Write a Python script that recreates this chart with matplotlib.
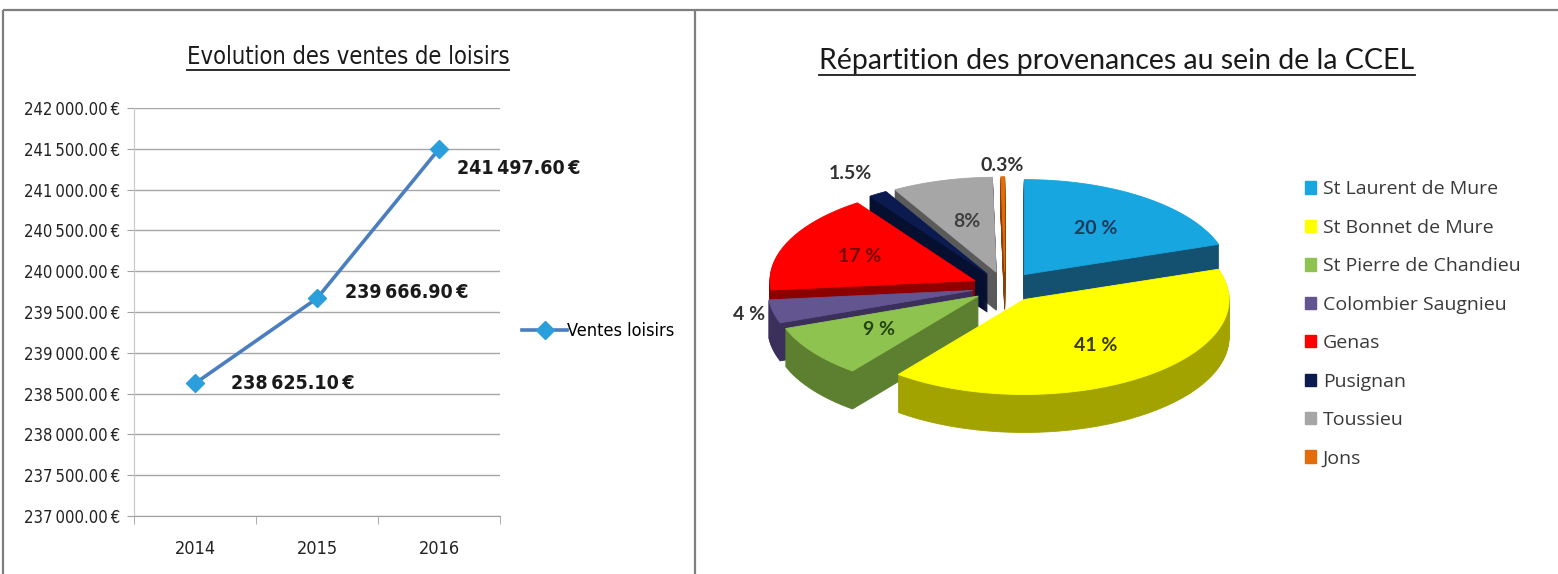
import numpy as np
import matplotlib
matplotlib.use("Agg")
import matplotlib.pyplot as plt
from matplotlib.patches import Polygon, Patch
from matplotlib.ticker import FuncFormatter, FixedLocator

# ---- data ----
years = ["2014", "2015", "2016"]
ventes = [238625.10, 239666.90, 241497.60]
series_name = "Ventes loisirs"

communes = ["St Laurent de Mure", "St Bonnet de Mure", "St Pierre de Chandieu",
            "Colombier Saugnieu", "Genas", "Pusignan", "Toussieu", "Jons"]
parts = [20, 41, 9, 4, 17, 1.5, 8, 0.3]
part_labels = ["20 %", "41 %", "9 %", "4 %", "17 %", "1.5%", "8%", "0.3%"]

# ---- styles ----
top_colors = ["#17a6e0", "#ffff00", "#8fc350", "#63558f", "#ff0000", "#0b1a4f", "#a6a6a6", "#e46c0a"]
side_colors = ["#14506f", "#a3a300", "#5d8030", "#3b2f5c", "#8c0000", "#050f30", "#5a5a5a", "#8a3f05"]
label_colors = ["#1e3a5c", "#3b3b00", "#254510", "#333333", "#7a0000", "#333333", "#404040", "#333333"]
label_radius = [0.6, 0.6, 0.6, 1.12, 0.62, 1.25, 0.55, 1.12]

W, H = 1558, 574
NARROW = dict(family="DejaVu Sans", stretch="condensed")
ROUND = ["Lato", "DejaVu Sans"]


def euro(v):
    return f"{v:,.2f}".replace(",", "\u2009") + "\u2009€"


fig = plt.figure(figsize=(W / 100, H / 100), dpi=100)
fig.patch.set_facecolor("white")

# background axes in pixel units (y down) for frames and the pie
bg = fig.add_axes([0, 0, 1, 1])
bg.set_xlim(0, W)
bg.set_ylim(H, 0)
bg.axis("off")
for xs, ys in [([3, 3], [10, H]), ([3, W], [10, 10]), ([695, 695], [10, H])]:
    bg.plot(xs, ys, color="#7f7f7f", lw=1.6, solid_capstyle="butt")

# ---- left: line chart ----
ax = fig.add_axes([134 / W, (H - 516) / H, 366 / W, 408 / H])
x = np.arange(len(years))
ax.plot(x, ventes, color="#4a7ebf", lw=2.6, marker="D", ms=9,
        mfc="#2b9fdb", mec="#2b9fdb", label=series_name, zorder=3)
ax.set_xlim(-0.5, len(years) - 0.5)
ax.set_ylim(237000, 242000)
ax.yaxis.set_major_locator(FixedLocator(np.arange(237000, 242001, 500)))
ax.yaxis.set_major_formatter(FuncFormatter(lambda v, p: euro(v)))
ax.set_xticks(x)
ax.set_xticklabels(years)
ax.xaxis.set_minor_locator(FixedLocator(np.arange(-0.5, len(years), 1.0)))
ax.tick_params(axis="x", which="major", length=0, pad=17, labelsize=13, labelcolor="#222222")
ax.tick_params(axis="x", which="minor", length=6, color="#a0a0a0", direction="out")
ax.tick_params(axis="y", length=5, color="#a0a0a0", pad=5, labelsize=12, labelcolor="#222222")
for lab in ax.get_xticklabels() + ax.get_yticklabels():
    lab.set_family(NARROW["family"])
    lab.set_stretch(NARROW["stretch"])
ax.grid(axis="y", color="#a6a6a6", lw=1)
ax.set_axisbelow(True)
for s in ["top", "right"]:
    ax.spines[s].set_visible(False)
ax.spines["left"].set_color("#c8c8c8")
ax.spines["bottom"].set_color("#a0a0a0")

offsets = [(26, 0), (20, 4), (13, -14)]
for xi, v, (dx, dy) in zip(x, ventes, offsets):
    ax.annotate(euro(v), (xi, v), xytext=(dx, dy),
                textcoords="offset points", ha="left", va="center",
                fontsize=14, fontweight="bold", color="#1a1a1a", **NARROW)

leg = ax.legend(loc="center left", bbox_to_anchor=(506 / W, 1 - 331 / H),
                bbox_transform=fig.transFigure, frameon=False, handlelength=2.5,
                handletextpad=0.0, numpoints=1,
                prop={"family": NARROW["family"], "stretch": NARROW["stretch"], "size": 13})

renderer = fig.canvas.get_renderer()


def underlined_title(xc, yc, text, size, **font):
    t = fig.text(xc / W, 1 - yc / H, text, ha="center", va="center",
                 fontsize=size, color="#1a1a1a", **font)
    bb = t.get_window_extent(renderer=renderer)
    yline = bb.y0 - 1
    fig.add_artist(plt.Line2D([bb.x0 / W, bb.x1 / W], [yline / H, yline / H],
                              color="#1a1a1a", lw=1.3, transform=fig.transFigure))


underlined_title(348, 57, "Evolution des ventes de loisirs", 17, **NARROW)
underlined_title(1117, 61, "Répartition des provenances au sein de la CCEL", 20.5, family=ROUND)

# ---- right: pseudo 3D exploded pie ----
CX, CY = 1005, 287
RX, RY = 205, 95
DEPTH = 38
EXPLODE = 33

vals = np.array(parts, dtype=float)
frac = vals / vals.sum()
cum = np.concatenate([[0], np.cumsum(frac)])
starts = 90 - 360 * cum[:-1]
ends = 90 - 360 * cum[1:]
mids = (starts + ends) / 2


def point(cx, cy, ang, r=1.0):
    a = np.radians(ang)
    return cx + r * RX * np.cos(a), cy - r * RY * np.sin(a)


order = np.argsort(-np.sin(np.radians(mids)))
for i in order:
    m = np.radians(mids[i])
    cx = CX + EXPLODE * np.cos(m)
    cy = CY - EXPLODE * np.sin(m) * RY / RX
    t = np.linspace(starts[i], ends[i], 80)
    ax_, ay_ = point(cx, cy, t)
    pts = np.column_stack([np.r_[cx, ax_], np.r_[cy, ay_]])
    for d in range(DEPTH, 0, -1):
        bg.add_patch(Polygon(pts + [0, d], closed=True, fc=side_colors[i], ec=side_colors[i],
                             lw=0.6, zorder=2))
    bg.add_patch(Polygon(pts, closed=True, fc=top_colors[i], ec=top_colors[i], lw=0.6, zorder=2))

for i in range(len(parts)):
    m = np.radians(mids[i])
    cx = CX + EXPLODE * np.cos(m)
    cy = CY - EXPLODE * np.sin(m) * RY / RX
    lx, ly = point(cx, cy, mids[i], label_radius[i])
    bg.text(lx, ly, part_labels[i], ha="center", va="center", fontsize=14,
            fontweight="bold", family=ROUND, color=label_colors[i], zorder=5)

handles = [Patch(fc=c, ec=c) for c in top_colors]
bg.legend(handles, communes, loc="upper left", bbox_to_anchor=(1287 / W, 1 - 163 / H),
          bbox_transform=fig.transFigure, frameon=False, handlelength=0.6, handleheight=0.6,
          handletextpad=0.35, labelspacing=1.05,
          prop={"family": ["Open Sans", "DejaVu Sans"], "size": 14}, labelcolor="#3a3a3a")

fig.savefig("out.png", dpi=100, facecolor="white")
